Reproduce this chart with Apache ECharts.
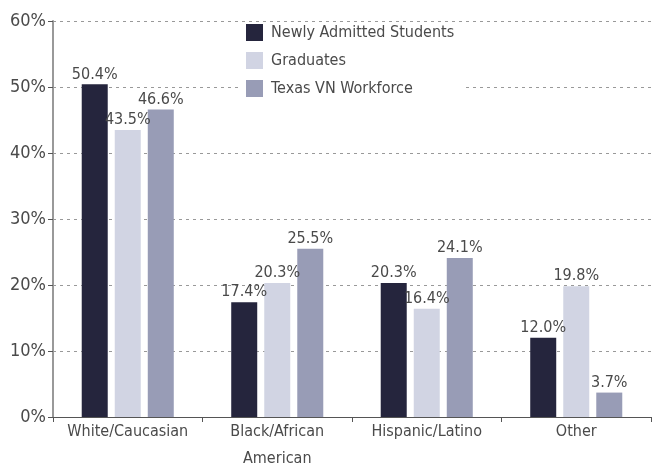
<!DOCTYPE html>
<html><head><meta charset="utf-8">
<script src="https://cdn.jsdelivr.net/npm/echarts@6/dist/echarts.min.js"></script>
<style>html,body{margin:0;padding:0;background:#fff}#c{width:655px;height:465px}</style>
</head><body><div id="c"></div>
<script>
const categories = ['White/Caucasian', 'Black/African\nAmerican', 'Hispanic/Latino', 'Other'];
const seriesNames = ['Newly Admitted Students', 'Graduates', 'Texas VN Workforce'];
const newlyAdmitted = [50.4, 17.4, 20.3, 12.0];
const graduates = [43.5, 20.3, 16.4, 19.8];
const workforce = [46.6, 25.5, 24.1, 3.7];
const yTicks = [0, 10, 20, 30, 40, 50, 60];
const colors = ['#25253d', '#d1d4e3', '#989cb6'];
const FONT = '"Liberation Sans Narrow", "DejaVu Sans Condensed", sans-serif';
const textColor = '#4a4a4a';

const chart = echarts.init(document.getElementById('c'));
const values = [newlyAdmitted, graduates, workforce];
chart.setOption({
  animation: false,
  textStyle: { fontFamily: FONT },
  grid: { left: 53, right: 4, top: 21, bottom: 48, containLabel: false, outerBoundsMode: 'none' },
  legend: {
    orient: 'vertical', left: 240, top: 22, icon: 'rect',
    itemWidth: 17, itemHeight: 17, itemGap: 11,
    backgroundColor: '#ffffff', padding: [2, 8, 4, 6],
    textStyle: { fontFamily: FONT, fontSize: 16, color: textColor, padding: [0, 0, 0, 3] },
    data: seriesNames
  },
  xAxis: {
    type: 'category', data: categories,
    axisLine: { lineStyle: { color: '#555', width: 1 } },
    axisTick: { show: true, alignWithLabel: false, length: 5, lineStyle: { color: '#555' } },
    axisLabel: { interval: 0, fontFamily: FONT, fontSize: 16, color: textColor, margin: 1, lineHeight: 27 }
  },
  yAxis: {
    type: 'value', min: yTicks[0], max: yTicks[yTicks.length - 1], interval: 10,
    axisLine: { show: true, lineStyle: { color: '#999', width: 2 } },
    axisTick: { show: true, length: 5, lineStyle: { color: '#555' } },
    axisLabel: { fontFamily: FONT, fontSize: 18, color: textColor, margin: 7, formatter: v => v + '%' },
    splitLine: { lineStyle: { color: '#999', type: [3, 4], width: 1 } }
  },
  series: seriesNames.map((n, i) => ({
    name: n, type: 'bar', data: values[i], barWidth: 26, barGap: '27%',
    itemStyle: { color: colors[i] },
    label: { show: true, position: 'top', distance: 2, fontFamily: FONT, fontSize: 16, color: textColor,
      formatter: p => p.value.toFixed(1) + '%' }
  }))
});
</script></body></html>
